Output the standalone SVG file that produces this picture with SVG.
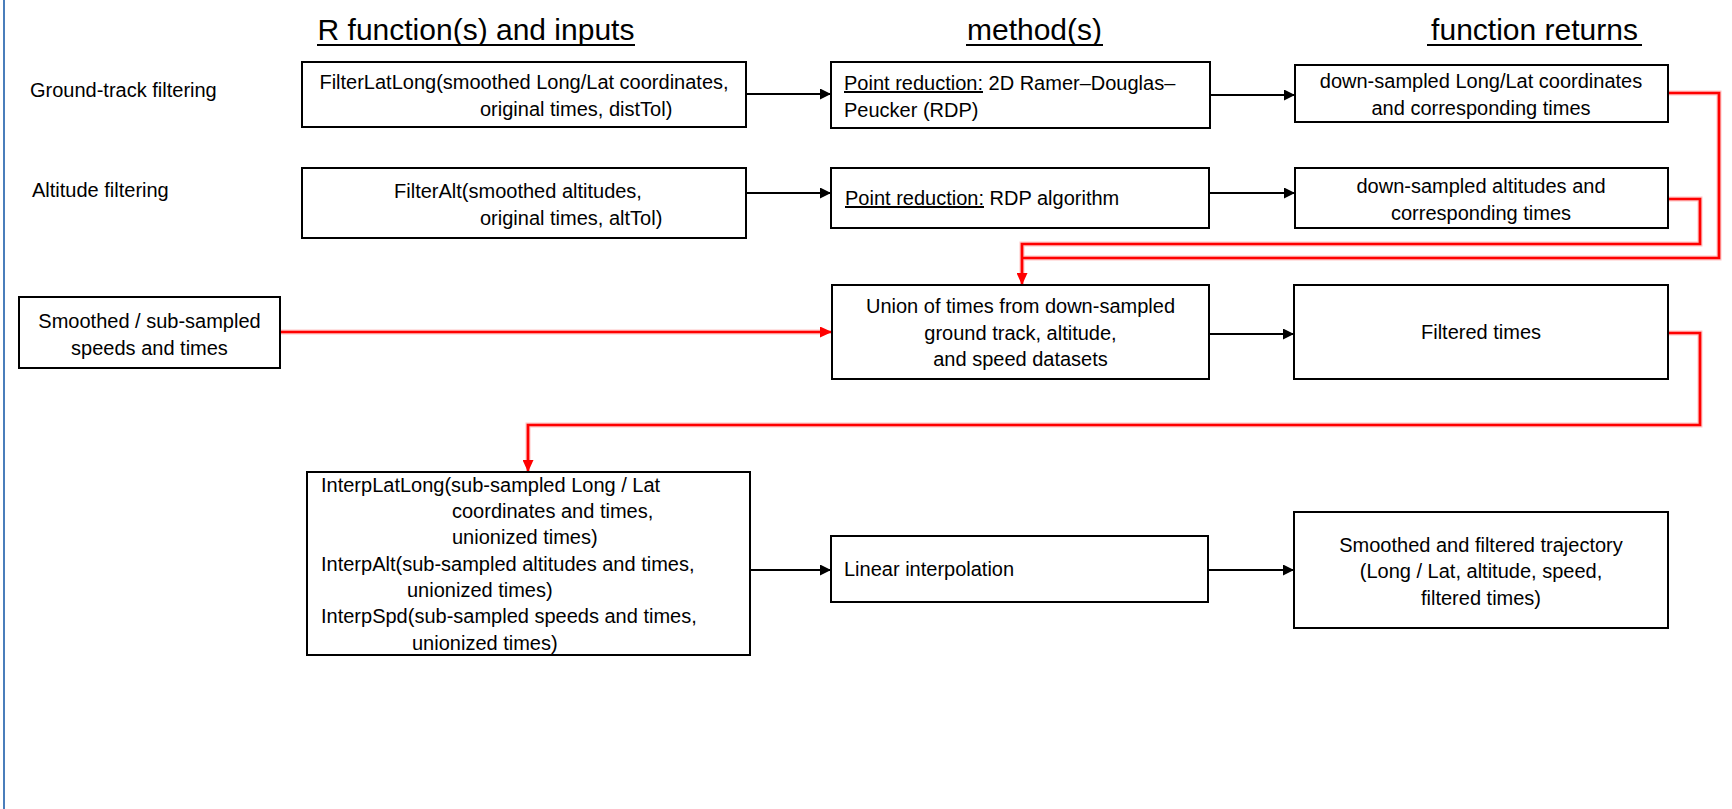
<svg xmlns="http://www.w3.org/2000/svg" width="1732" height="809" viewBox="0 0 1732 809">
<style>
.box{fill:#fff;stroke:#000;stroke-width:2}
.t{font-family:"Liberation Sans",Arial,sans-serif;font-size:20px;fill:#000}
.title{font-size:30px}
.c{text-anchor:middle}
.ul{stroke:#000;stroke-width:2}
.blk{fill:none;stroke:#000;stroke-width:2}
.red{fill:none;stroke:#f00;stroke-width:2.7}
.halo{fill:none;stroke:#ffc4c4;stroke-width:5}
</style>
<defs>
<marker id="ab" markerUnits="userSpaceOnUse" markerWidth="11" markerHeight="11" refX="11" refY="5.5" orient="auto"><path d="M0,0 L11,5.5 L0,11 z" fill="#000"/></marker>
<marker id="ar" markerUnits="userSpaceOnUse" markerWidth="12" markerHeight="11" refX="12" refY="5.5" orient="auto"><path d="M0,0 L12,5.5 L0,11 z" fill="#f00"/></marker>
</defs>
<rect x="0" y="0" width="1732" height="809" fill="#fff"/>
<line x1="4" y1="0" x2="4" y2="809" stroke="#4a7ebb" stroke-width="2"/>

<g id="titles">
<text class="t title c" x="476" y="40">R function(s) and inputs</text>
<line class="ul" x1="317" y1="45" x2="635" y2="45"/>
<text class="t title c" x="1034.5" y="40">method(s)</text>
<line class="ul" x1="966" y1="45" x2="1103" y2="45"/>
<text class="t title c" x="1534.5" y="40">function returns</text>
<line class="ul" x1="1427" y1="45" x2="1642" y2="45"/>
</g>

<g id="row-labels">
<text class="t" x="30" y="97">Ground-track filtering</text>
<text class="t" x="32" y="197">Altitude filtering</text>
</g>

<g id="connectors">
<line class="blk" x1="746" y1="94" x2="831" y2="94" marker-end="url(#ab)"/>
<line class="blk" x1="1210" y1="95" x2="1295" y2="95" marker-end="url(#ab)"/>
<line class="blk" x1="746" y1="193" x2="831" y2="193" marker-end="url(#ab)"/>
<line class="blk" x1="1209" y1="193" x2="1295" y2="193" marker-end="url(#ab)"/>
<line class="blk" x1="1209" y1="334" x2="1294" y2="334" marker-end="url(#ab)"/>
<line class="blk" x1="750" y1="570" x2="831" y2="570" marker-end="url(#ab)"/>
<line class="blk" x1="1208" y1="570" x2="1294" y2="570" marker-end="url(#ab)"/>
<g id="red-halo">
<path class="halo" d="M280,332 L820,332"/>
<path class="halo" d="M1668,93 L1719,93 L1719,258 L1022,258"/>
<path class="halo" d="M1668,199 L1700,199 L1700,244 L1022,244 L1022,274"/>
<path class="halo" d="M1668,333 L1700,333 L1700,425 L528,425 L528,461"/>
</g>
<path class="red" d="M280,332 L832,332" marker-end="url(#ar)"/>
<path class="red" d="M1668,93 L1719,93 L1719,258 L1022,258"/>
<path class="red" d="M1668,199 L1700,199 L1700,244 L1022,244 L1022,285" marker-end="url(#ar)"/>
<path class="red" d="M1668,333 L1700,333 L1700,425 L528,425 L528,472" marker-end="url(#ar)"/>
</g>

<g id="filterlatlong">
<rect class="box" x="302" y="62" width="444" height="65"/>
<text class="t c" x="524" y="89">FilterLatLong(smoothed Long/Lat coordinates,</text>
<text class="t" x="480" y="116">original times, distTol)</text>
</g>

<g id="rdp2d">
<rect class="box" x="831" y="62" width="379" height="66"/>
<text class="t" x="844" y="90"><tspan text-decoration="underline">Point reduction:</tspan> 2D Ramer–Douglas–</text>
<text class="t" x="844" y="117">Peucker (RDP)</text>
</g>

<g id="ds-longlat">
<rect class="box" x="1295" y="65" width="373" height="57"/>
<text class="t c" x="1481" y="88">down-sampled Long/Lat coordinates</text>
<text class="t c" x="1481" y="115">and corresponding times</text>
</g>

<g id="filteralt">
<rect class="box" x="302" y="168" width="444" height="70"/>
<text class="t c" x="518" y="198">FilterAlt(smoothed altitudes,</text>
<text class="t" x="480" y="225">original times, altTol)</text>
</g>

<g id="rdp-alt">
<rect class="box" x="831" y="168" width="378" height="60"/>
<text class="t" x="845" y="205"><tspan text-decoration="underline">Point reduction:</tspan> RDP algorithm</text>
</g>

<g id="ds-alt">
<rect class="box" x="1295" y="168" width="373" height="60"/>
<text class="t c" x="1481" y="193">down-sampled altitudes and</text>
<text class="t c" x="1481" y="220">corresponding times</text>
</g>

<g id="smoothed-speeds">
<rect class="box" x="19" y="297" width="261" height="71"/>
<text class="t c" x="149.5" y="328">Smoothed / sub-sampled</text>
<text class="t c" x="149.5" y="355">speeds and times</text>
</g>

<g id="union">
<rect class="box" x="832" y="285" width="377" height="94"/>
<text class="t c" x="1020.5" y="313">Union of times from down-sampled</text>
<text class="t c" x="1020.5" y="339.5">ground track, altitude,</text>
<text class="t c" x="1020.5" y="366">and speed datasets</text>
</g>

<g id="filtered-times">
<rect class="box" x="1294" y="285" width="374" height="94"/>
<text class="t c" x="1481" y="339">Filtered times</text>
</g>

<g id="interp">
<rect class="box" x="307" y="472" width="443" height="183"/>
<text class="t" x="321" y="491.5">InterpLatLong(sub-sampled Long / Lat</text>
<text class="t" x="452" y="518">coordinates and times,</text>
<text class="t" x="452" y="544">unionized times)</text>
<text class="t" x="321" y="570.5">InterpAlt(sub-sampled altitudes and times,</text>
<text class="t" x="407" y="597">unionized times)</text>
<text class="t" x="321" y="623">InterpSpd(sub-sampled speeds and times,</text>
<text class="t" x="412" y="649.5">unionized times)</text>
</g>

<g id="linear">
<rect class="box" x="831" y="536" width="377" height="66"/>
<text class="t" x="844" y="576">Linear interpolation</text>
</g>

<g id="trajectory">
<rect class="box" x="1294" y="512" width="374" height="116"/>
<text class="t c" x="1481" y="551.5">Smoothed and filtered trajectory</text>
<text class="t c" x="1481" y="578">(Long / Lat, altitude, speed,</text>
<text class="t c" x="1481" y="605">filtered times)</text>
</g>
</svg>
